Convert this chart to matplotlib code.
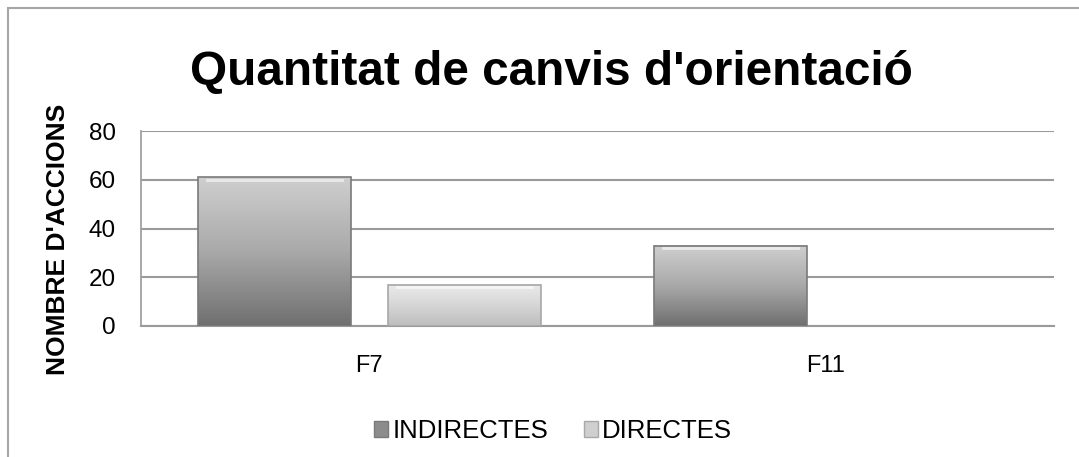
import matplotlib
matplotlib.use("Agg")
import matplotlib.pyplot as plt
import numpy as np
from matplotlib.patches import Rectangle
from matplotlib.colors import LinearSegmentedColormap

plt.rcParams['font.family'] = ['Liberation Sans', 'DejaVu Sans']

categories = ['F7', 'F11']
indirectes = [61, 33]
directes = [17, 0]
series_names = ['INDIRECTES', 'DIRECTES']
yticks = [0, 20, 40, 60, 80]

W, H = 1079, 457
fig = plt.figure(figsize=(W / 100, H / 100), dpi=100)

# outer chart frame (runs off the right/bottom edge)
fig.patches.append(Rectangle((8 / W, -0.1), 1.2, 1 - 8 / H + 0.1,
                             transform=fig.transFigure, fill=False,
                             edgecolor='#a6a6a6', linewidth=1.5))

ax = fig.add_axes([141 / W, 1 - 326 / H, (1054 - 141) / W, (326 - 131) / H])

cmaps = [
    LinearSegmentedColormap.from_list('ind', ['#6f6f6f', '#a9a9a9', '#cfcfcf']),
    LinearSegmentedColormap.from_list('dir', ['#bdbdbd', '#d6d6d6', '#ebebeb']),
]
edge = ['#7a7a7a', '#a8a8a8']

x = np.arange(len(categories))
width = 0.335
offsets = [-0.208, 0.208]
grad = np.linspace(0, 1, 256).reshape(-1, 1)

for k, vals in enumerate([indirectes, directes]):
    for xi, v in zip(x, vals):
        if v <= 0:
            continue
        left = xi + offsets[k] - width / 2
        ax.imshow(grad, cmap=cmaps[k], origin='lower', aspect='auto',
                  extent=[left, left + width, 0, v], zorder=3)
        # light bevel along the top
        ax.plot([left + 0.02, left + width - 0.02], [v - 1.2, v - 1.2],
                color='white', alpha=0.6, linewidth=2, zorder=4)
        ax.add_patch(Rectangle((left, 0), width, v, fill=False,
                               edgecolor=edge[k], linewidth=1.2, zorder=5))

ax.set_xlim(-0.5, 1.5)
ax.set_ylim(0, 80)
ax.set_yticks(yticks)
ax.set_xticks(x)
ax.set_xticklabels(categories, fontsize=17)
ax.tick_params(axis='y', labelsize=17.5, length=0, pad=18)
ax.tick_params(axis='x', length=0, pad=21)
ax.yaxis.grid(True, color='#9a9a9a', linewidth=1.5)
ax.set_axisbelow(True)
for sp in ['top', 'right']:
    ax.spines[sp].set_visible(False)
ax.spines['left'].set_color('#9a9a9a')
ax.spines['bottom'].set_color('#9a9a9a')
ax.spines['left'].set_linewidth(1.2)
ax.spines['bottom'].set_linewidth(1.5)

fig.text(551 / W, 1 - 73 / H, "Quantitat de canvis d'orientació",
         ha='center', va='center', fontsize=34.4, fontweight='bold')
fig.text(58 / W, 1 - 239 / H, "NOMBRE D'ACCIONS", rotation=90,
         ha='center', va='center', fontsize=19, fontweight='bold')

# legend
handles = [Rectangle((0, 0), 1, 1, facecolor=c, edgecolor=e)
           for c, e in zip(['#8c8c8c', '#cfcfcf'], edge)]
fig.legend(handles, series_names, loc='center', ncol=2,
           bbox_to_anchor=(553 / W, 1 - 431 / H), frameon=False,
           fontsize=18.5, handlelength=0.55, handleheight=0.55,
           handletextpad=0.15, columnspacing=1.4)

fig.savefig('out.png', dpi=100)
